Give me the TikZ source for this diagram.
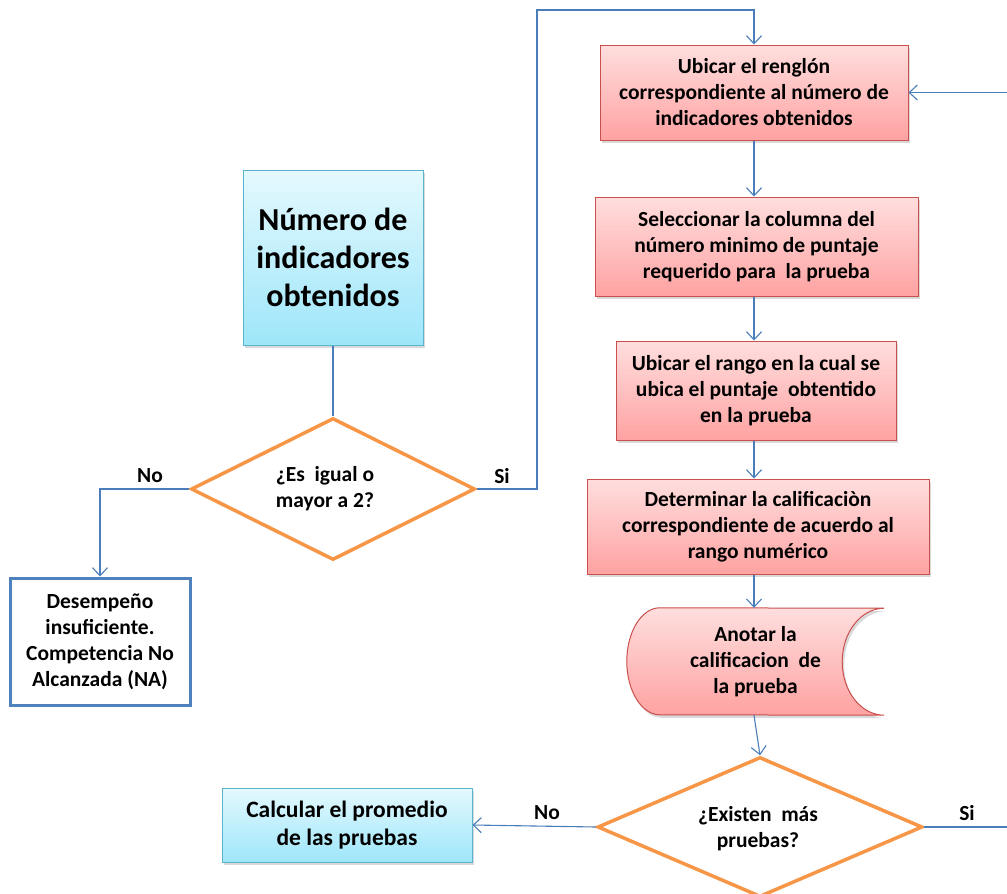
\documentclass[tikz,border=0pt]{standalone}
\usepackage{fontspec}
\setmainfont{Carlito}
\usetikzlibrary{shapes.geometric,arrows.meta,shadows,calc}

\definecolor{linecol}{HTML}{4A7EBB}
\definecolor{redline}{HTML}{C9504D}
\definecolor{redtop}{HTML}{FFDEDE}
\definecolor{redbot}{HTML}{FFA2A2}
\definecolor{bluetop}{HTML}{E4F9FE}
\definecolor{bluebot}{HTML}{9EE6FA}
\definecolor{blueline}{HTML}{5AB4CF}
\definecolor{orangeline}{HTML}{F79646}
\definecolor{naline}{HTML}{4F81BD}

\tikzset{
  flow/.style={draw=linecol, line width=1.1pt},
  arrow/.style={flow, -{Straight Barb[length=8pt,width=15pt]}},
  shade box/.style={drop shadow={shadow xshift=2pt, shadow yshift=-3pt, opacity=0.3}},
  boxfont/.style={font=\bfseries\fontsize{21.5}{26}\selectfont},
  redbox/.style={draw=redline, line width=1pt, top color=redtop, bottom color=redbot,
    shade box, align=center, inner sep=0pt, boxfont},
  bluebox/.style={draw=blueline, line width=1pt, top color=bluetop, bottom color=bluebot,
    shade box, align=center, inner sep=0pt},
  decision/.style={diamond, draw=orangeline, line width=3.5pt, fill=white, inner sep=0pt},
  label/.style={font=\bfseries\fontsize{21.5}{24}\selectfont}
}

\begin{document}
\begin{tikzpicture}[x=1pt, y=-1pt]
    \useasboundingbox (0,0) rectangle (1007,894);

    % left side
    \node[bluebox, minimum width=180pt, minimum height=175pt,
      font=\bfseries\fontsize{32}{38}\selectfont] (num) at (333,257.5)
      {Número de\\indicadores\\obtenidos};
    \node[decision, minimum width=284pt, minimum height=142pt] (q1) at (333,489) {};
    \node[align=center, boxfont] (q1text) at (325,489) {¿Es\ \ igual o\\mayor a 2?};
    \node[draw=naline, line width=3pt, fill=white, minimum width=180pt, minimum height=127pt,
      align=center, inner sep=0pt, boxfont] (na) at (100,641.5)
      {Desempeño\\insuficiente.\\Competencia No\\Alcanzada (NA)};

    % right column
    \node[redbox, minimum width=308pt, minimum height=95pt] (r1) at (754,92.5)
      {Ubicar el renglón\\correspondiente al número de\\indicadores obtenidos};
    \node[redbox, minimum width=323pt, minimum height=99pt] (r2) at (756.5,246.5)
      {Seleccionar la columna del\\número minimo de puntaje\\requerido para\ \ la prueba};
    \node[redbox, minimum width=280pt, minimum height=99pt] (r3) at (756,390.5)
      {Ubicar el rango en la cual se\\ubica el puntaje\ \ obtentido\\en la prueba};
    \node[redbox, minimum width=342pt, minimum height=95pt] (r4) at (758,526.5)
      {Determinar la calificaciòn\\correspondiente de acuerdo al\\rango numérico};

    % stored data shape
    \node[minimum width=257pt, minimum height=107pt, inner sep=0pt] (nota) at (755.5,661.5) {};
    \draw[draw=redline, line width=1pt, top color=redtop, bottom color=redbot, shade box]
      ($(nota.north west)+(33,0)$) arc[start angle=270, end angle=90, x radius=33, y radius=53.5]
      -- (nota.south east) arc[start angle=90, end angle=270, x radius=42, y radius=53.5]
      -- cycle;
    \node[align=center, boxfont] at (nota.center)
      {Anotar la\\calificacion\ \ de\\la prueba};

    \node[decision, minimum width=325pt, minimum height=140pt] (q2) at (760,827) {};
    \node[align=center, boxfont] (q2text) at (758,829) {¿Existen\ \ más\\pruebas?};
    \node[bluebox, minimum width=250pt, minimum height=74pt,
      font=\bfseries\fontsize{23.5}{28}\selectfont] (calc) at (347,825)
      {Calcular el promedio\\de las pruebas};

    % free ends of the loop
    \coordinate (top) at (537,10);
    \coordinate (loopin) at (1007,92.5);
    \coordinate (loopout) at (1007,827);

    % connectors
    \draw[flow] (num.south) -- (q1.north);
    \draw[arrow] (q1.west) -| (na.north);
    \draw[arrow] (q1.east) -| (top) -| (r1.north);
    \draw[arrow] (loopin) -- (r1.east);
    \draw[arrow] (r1.south) -- (r1.south |- r2.north);
    \draw[arrow] (r1.south |- r2.south) -- (r1.south |- r3.north);
    \draw[arrow] (r1.south |- r3.south) -- (r1.south |- r4.north);
    \draw[arrow] (r1.south |- r4.south) -- (r1.south |- nota.north);
    \draw[arrow] (r1.south |- nota.south) -- (q2.north);
    \draw[arrow] (q2.west) -- (calc.east);
    \draw[flow] (q2.east) -- (loopout);

    \node[label] (no1) at (150,476) {No};
    \node[label] (si1) at (502,476) {Si};
    \node[label] (no2) at (547,813) {No};
    \node[label] (si2) at (967,813) {Si};
\end{tikzpicture}
\end{document}
